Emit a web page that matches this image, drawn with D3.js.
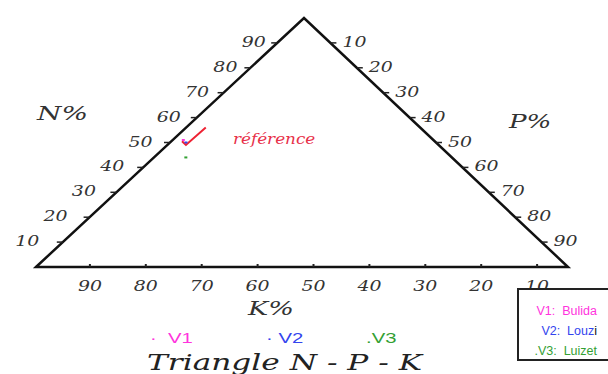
<!DOCTYPE html>
<html>
<head>
<meta charset="utf-8">
<script src="https://cdn.jsdelivr.net/npm/d3@7"></script>
<style>
  body { margin: 0; background: #fff; }
  svg { display: block; }
  .script { font-family: "DejaVu Serif", serif; font-style: italic; fill: #333; }
  .sans { font-family: "Liberation Sans", Arial, sans-serif; white-space: pre; }
</style>
</head>
<body>
<div id="chart"></div>
<script>
// tick values on the three sides
var sideTicks = [10, 20, 30, 40, 50, 60, 70, 80, 90];
var kTicks = [90, 80, 70, 60, 50, 40, 30, 20, 10];

// varieties (N%, P%, K%)
var seriesNames = ["V1", "V2", "V3"];
var seriesLabels = ["Bulida", "Louzi", "Luizet"];
var seriesN = [51, 50, 44];
var seriesP = [2, 3, 6];
var seriesK = [47, 47, 50];

// reference line (N%, P%, K%)
var refN = [50.5, 49, 56];
var refP = [2, 3.5, 3.7];
var refK = [47.5, 47.5, 40.3];

var width = 608, height = 374;

var svg = d3.select("#chart").append("svg")
  .attr("width", width)
  .attr("height", height);

var color = d3.scaleOrdinal()
  .domain(seriesNames)
  .range(["#ff33dd", "#3344ee", "#33a033"]);

// ternary projection: N goes up to the apex, P goes to the right corner
var left = [36, 267];
var yN = d3.scaleLinear().domain([0, 100]).range([267, 18]);
var xN = d3.scaleLinear().domain([0, 100]).range([0, 268]);
var xP = d3.scaleLinear().domain([0, 100]).range([0, 532]);
// bottom graduation as drawn on the original
var xK = d3.scaleLinear().domain([100, 0]).range([34, 593]);

function proj(n, p) {
  return [left[0] + xN(n) + xP(p), yN(n)];
}

// stretched script text
function scriptText(g, x, y, txt, size, anchor, sx) {
  return g.append("text")
    .attr("class", "script")
    .attr("transform", "translate(" + x + "," + y + ") scale(" + (sx || 1.35) + ",1)")
    .attr("text-anchor", anchor || "start")
    .style("font-size", size + "px")
    .text(txt);
}

// triangle
var corners = [proj(0, 0), proj(100, 0), proj(0, 100)];
svg.append("path")
  .attr("d", "M" + corners.join("L") + "Z")
  .attr("fill", "none")
  .attr("stroke", "#111")
  .attr("stroke-width", 2.5)
  .attr("stroke-linejoin", "miter");

var axes = svg.append("g");

// N% ticks on left side
sideTicks.forEach(function(t) {
  var pt = proj(t, 0);
  axes.append("line")
    .attr("x1", pt[0] - 6).attr("x2", pt[0])
    .attr("y1", pt[1]).attr("y2", pt[1])
    .attr("stroke", "#222").attr("stroke-width", 1.5);
  // labels drift away from the edge towards the base
  scriptText(axes, pt[0] - (25 - 0.15 * t), pt[1] + 4, t, 14, "end");
});

// P% ticks on right side
sideTicks.forEach(function(t) {
  var pt = proj(100 - t, t);
  axes.append("line")
    .attr("x1", pt[0]).attr("x2", pt[0] + 6)
    .attr("y1", pt[1]).attr("y2", pt[1])
    .attr("stroke", "#222").attr("stroke-width", 1.5);
  scriptText(axes, pt[0] + 12, pt[1] + 4, t, 14, "start");
});

// K% ticks on the base
kTicks.forEach(function(t) {
  var x = xK(t);
  axes.append("line")
    .attr("x1", x).attr("x2", x)
    .attr("y1", 264).attr("y2", 267)
    .attr("stroke", "#222").attr("stroke-width", 2);
  scriptText(axes, x, 291, t, 14, "middle");
});

// axis names
scriptText(svg, 37, 120, "N%", 18, "start", 1.55);
scriptText(svg, 509, 128, "P%", 18, "start", 1.45);
scriptText(svg, 248, 315, "K%", 18, "start", 1.5);

// reference line
var refPts = refN.map(function(n, i) { return proj(n, refP[i]); });
svg.append("path")
  .attr("d", d3.line()(refPts))
  .attr("fill", "none")
  .attr("stroke", "#ee2233")
  .attr("stroke-width", 2);

scriptText(svg, 233, 144, "référence", 14, "start", 1.2)
  .style("fill", "#e8304a");

// variety points
seriesNames.forEach(function(s, i) {
  var pt = proj(seriesN[i], seriesP[i]);
  svg.append("rect")
    .attr("x", pt[0] - 1.5).attr("y", pt[1] - 1)
    .attr("width", 3).attr("height", 2)
    .attr("fill", color(s));
});

// legend under the chart
var legendX = [150, 266, 366];
var legendPrefix = ["·  ", "· ", "."];
seriesNames.forEach(function(s, i) {
  svg.append("text")
    .attr("class", "sans")
    .attr("transform", "translate(" + legendX[i] + ",343) scale(1.45,1)")
    .style("font-size", "14px")
    .attr("fill", color(s))
    .text(legendPrefix[i] + s);
});

// title
svg.append("text")
  .attr("class", "script")
  .attr("x", 147).attr("y", 370)
  .attr("textLength", 275)
  .attr("lengthAdjust", "spacingAndGlyphs")
  .style("font-size", "22px")
  .style("fill", "#222")
  .text("Triangle N - P - K");

// legend box
var box = svg.append("g");
box.append("rect")
  .attr("x", 518).attr("y", 289)
  .attr("width", 100).attr("height", 71)
  .attr("fill", "#fff")
  .attr("stroke", "#222")
  .attr("stroke-width", 2);

var boxPrefix = ["", "", "."];
seriesNames.forEach(function(s, i) {
  var t = box.append("text")
    .attr("class", "sans")
    .attr("x", 597).attr("y", 315 + i * 20)
    .attr("text-anchor", "end")
    .style("font-size", "12.5px")
    .attr("fill", color(s));
  if (s === "V2") {
    t.append("tspan").text(boxPrefix[i] + s + ":  Louz");
    t.append("tspan").attr("fill", "#111").text("i");
  } else {
    t.text(boxPrefix[i] + s + ":  " + seriesLabels[i]);
  }
});
</script>
</body>
</html>
